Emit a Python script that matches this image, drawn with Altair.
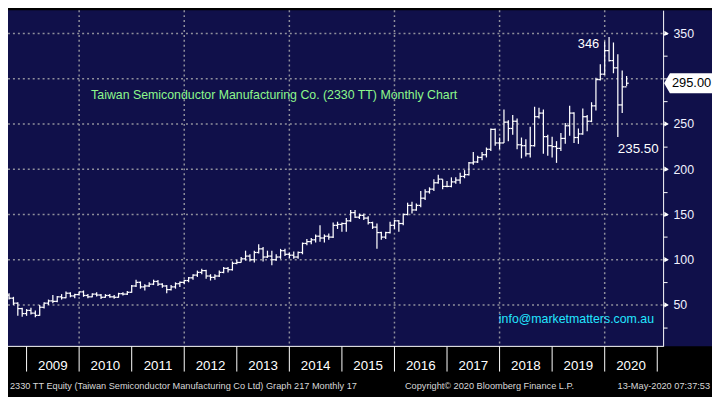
import altair as alt
import pandas as pd

# ---------------- data (monthly OHLC, 2330 TT) ----------------
months = pd.period_range("2008-08", "2020-05", freq="M")

opens = [
    61, 57.5, 52, 46, 40.5,
    44, 41, 38.5, 47.5, 52, 54.5, 54, 59, 58, 63, 60, 61.5,
    64.5, 60.5, 59, 62, 61, 58.5, 60.5, 59, 58.5, 62.5, 62, 64,
    71, 75, 70, 71, 73, 76, 73, 71, 67, 70, 73.5, 75,
    77, 80, 83, 86, 88, 82, 80.5, 82, 86, 90.5, 89, 96,
    97, 101, 104, 100, 108, 112, 103, 104, 100, 103, 110, 106,
    105, 103, 108, 118, 120, 122, 126, 124, 126, 125, 138, 139,
    140, 143, 152, 147, 149, 146, 141, 136, 130, 125, 130, 138,
    143, 140, 150, 160, 155, 160, 168, 175, 178, 185, 189, 181,
    181, 186, 188, 192, 194, 207, 208, 213, 216, 222, 244, 229,
    229, 252, 245, 253, 227, 226, 217, 226, 258, 262, 236, 226,
    225, 223, 234, 248, 262, 235, 239, 258, 253, 270, 299, 305,
    331, 320, 312, 271, 291,
]
highs = [
    63, 59, 53, 47, 45.5,
    47, 44, 50, 53, 56, 61, 60, 62, 65, 64, 62.5, 65,
    66, 62, 63, 64, 62, 62, 62, 61, 63.5, 64, 65.5, 72,
    78, 76, 73, 75, 78, 77.5, 74, 72, 72, 75, 76, 78,
    81, 84, 88, 90, 89, 84, 84, 88, 92, 92, 98, 100,
    103, 110, 106, 110, 117, 114, 110, 110, 106, 112, 112, 108,
    109, 109, 119, 123, 124, 128, 138, 128, 129, 141, 142, 141,
    146, 155, 155, 151, 151, 148, 142, 140, 131, 131, 142, 144,
    144, 151, 163, 164, 162, 176, 178, 180, 189, 194, 189, 187,
    191, 191, 196, 199, 208, 219, 215, 219, 224, 245, 245, 235,
    266, 254, 260, 256, 235, 233, 247, 269, 268, 266, 238, 236,
    231, 240, 251, 270, 263, 245, 267, 260, 274, 301, 316, 341,
    346, 340, 327, 309, 303,
]
lows = [
    56, 50, 38, 37, 38,
    39.5, 36.5, 38, 46, 50, 52, 53, 56, 57.5, 58.5, 57.5, 60.5,
    59, 57.5, 58.5, 59.5, 56.5, 58, 58, 57, 58, 60.5, 61, 63.5,
    70, 68, 66, 70, 72, 71, 69, 63, 66, 68, 70, 73,
    75, 78, 81, 84, 79, 77, 78, 81, 85, 86, 88, 95,
    97, 99, 98, 97, 107, 98, 102, 94, 99, 101, 104, 102,
    101, 101, 106, 116, 117, 119, 120, 119, 122, 124, 134, 131,
    131, 142, 146, 145, 144, 139, 134, 112, 122, 123, 129, 134,
    131, 138, 149, 151, 154, 158, 166, 173, 176, 184, 178, 180,
    180, 184, 184, 190, 193, 205, 207, 210, 213, 220, 226, 222,
    229, 231, 238, 222, 212, 214, 213, 225, 256, 217, 215, 213,
    207, 220, 228, 237, 229, 228, 238, 242, 252, 265, 298, 304,
    319, 306, 235.5, 262, 292,
]
closes = [
    57.5, 52, 46, 40.5, 44,
    41, 38.5, 47.5, 52, 54.5, 54, 59, 58, 63, 60, 61.5, 64.5,
    60.5, 59, 62, 61, 58.5, 60.5, 59, 58.5, 62.5, 62, 64, 71,
    75, 70, 71, 73, 76, 73, 71, 67, 70, 73.5, 75, 77,
    80, 83, 86, 88, 82, 80.5, 82, 86, 90.5, 89, 96, 97,
    101, 104, 100, 108, 112, 103, 104, 100, 103, 110, 106, 105,
    103, 108, 118, 120, 122, 126, 124, 126, 125, 138, 139, 140,
    143, 152, 147, 149, 146, 141, 136, 130, 125, 130, 138, 143,
    140, 150, 160, 155, 160, 168, 175, 178, 185, 189, 181, 181,
    186, 188, 192, 194, 207, 208, 213, 216, 222, 244, 229, 229,
    252, 245, 253, 227, 226, 217, 226, 258, 262, 236, 226, 225,
    223, 234, 248, 262, 235, 239, 258, 253, 270, 299, 305, 331,
    320, 312, 271, 291, 295,
]

year_labels = list(range(2009, 2021))          # x-axis labels
year_edges = list(range(2009, 2022))           # separators
grid_years = [2010, 2012, 2014, 2016, 2018, 2020]
y_grid = [50, 100, 150, 200, 250, 300, 350]
y_minor = list(range(25, 351, 25))
y_major_marks = [50, 100, 150, 200, 250, 350]

title_text = "Taiwan Semiconductor Manufacturing Co. (2330 TT) Monthly Chart"
email_text = "info@marketmatters.com.au"
footer_left = "2330 TT Equity (Taiwan Semiconductor Manufacturing Co Ltd) Graph 217  Monthly 17"
footer_mid = "Copyright\u00a9 2020 Bloomberg Finance L.P."
footer_right = "13-May-2020 07:37:53"

# ---------------- layout ----------------
TOTAL_W, TOTAL_H = 712, 389
SX, SY = TOTAL_W / 720, TOTAL_H / 397
PX_YEAR = 53.75                      # reference px per year
T0 = 2009 - 19 / PX_YEAR             # x domain left edge
T1 = T0 + 720 / PX_YEAR              # x domain right edge
W = TOTAL_W
H = round(347 * SY)
PB = TOTAL_H - H
PX_UNIT = 0.9343                     # reference px per price unit
V_TOP = 350 + 24 / PX_UNIT
V_BOT = 350 - (347 - 24) / PX_UNIT
AXIS_X = 670 * SX

NAVY = "#10104a"
GRID = "#8f8f9c"
SANS = "Liberation Sans, Arial, sans-serif"

df = pd.DataFrame({
    "t": [p.year + p.month / 12 for p in months],
    "o": opens, "h": highs, "l": lows, "c": closes,
})
tick_len = 2.2 / PX_YEAR
df["tl"] = df["t"] - tick_len
df["tr"] = df["t"] + tick_len

xs = alt.Scale(domain=[T0, T1], nice=False, zero=False)
ys = alt.Scale(domain=[V_BOT, V_TOP], nice=False, zero=False)

one = pd.DataFrame({"a": [0]})

# y axis (right side, moved onto the panel) - shared by every layer
yaxis = alt.Axis(
    orient="right", offset=-(TOTAL_W - AXIS_X), values=y_minor,
    labelExpr="(datum.value % 50 == 0 && datum.value != 300) ? datum.label : ''",
    domain=True, domainColor="white", domainWidth=1,
    ticks=True, tickColor="white", tickSize=4, tickWidth=1,
    labelColor="#f2f2ff", labelFont=SANS, labelFontSize=12.5, labelPadding=6,
    labelOverlap=False, grid=False, title=None,
)


def Y(field):
    return alt.Y(field, scale=ys, axis=yaxis)


def X(field):
    return alt.X(field, scale=xs, axis=None)


hgrid = alt.Chart(pd.DataFrame({"v": y_grid})).mark_rule(
    color=GRID, strokeDash=[2, 3], strokeWidth=1.5
).encode(y=Y("v:Q"), x=alt.value(0), x2=alt.value(AXIS_X))

vgrid = alt.Chart(pd.DataFrame({"yr": grid_years})).mark_rule(
    color=GRID, strokeDash=[2, 3], strokeWidth=1.5
).encode(x=X("yr:Q"))

bottom_line = alt.Chart(one).mark_rule(color="white", strokeWidth=1).encode(
    x=alt.value(0), x2=alt.value(AXIS_X), y=alt.value(H)
)

BAR_W = 1.25
hl = alt.Chart(df).mark_rule(color="white", strokeWidth=BAR_W).encode(
    x=X("t:Q"), y=Y("l:Q"), y2="h:Q"
)
op = alt.Chart(df).mark_rule(color="white", strokeWidth=BAR_W).encode(
    x=X("tl:Q"), x2="t:Q", y=Y("o:Q")
)
cl = alt.Chart(df).mark_rule(color="white", strokeWidth=BAR_W).encode(
    x=X("t:Q"), x2="tr:Q", y=Y("c:Q")
)

# major tick triangles on the right axis
tri = alt.Chart(pd.DataFrame({"v": y_major_marks})).mark_point(
    shape="triangle-right", filled=True, color="white", size=28, opacity=1
).encode(x=alt.value(AXIS_X + 3.5), y=Y("v:Q"))

# last price tag
last = df.iloc[[-1]].copy()
last["lbl"] = last["c"].map(lambda v: f"{v:.2f}")
tag_shape = "M -1 0 L -0.76 -0.41 L 1 -0.41 L 1 0.41 L -0.76 0.41 Z"
tag = alt.Chart(last).mark_point(
    shape=tag_shape, filled=True, color="white", size=49 ** 2, opacity=1
).encode(x=alt.value(AXIS_X + 1 + 24.5), y=Y("c:Q"))
tag_txt = alt.Chart(last).mark_text(
    align="left", baseline="middle", color="black", font=SANS, fontSize=13
).encode(x=alt.value(679 * SX), y=Y("c:Q"), text="lbl:N")

# high / low annotations
hi_row = df.loc[[df["h"].idxmax()]].copy()
hi_row["lbl"] = hi_row["h"].map(lambda v: f"{v:g}")
lo_row = df[df["t"] > 2020].nsmallest(1, "l").copy()
lo_row["lbl"] = lo_row["l"].map(lambda v: f"{v:.2f}")
hi_txt = alt.Chart(hi_row).mark_text(
    align="right", baseline="middle", color="white", font=SANS, fontSize=13, dx=-10, dy=7
).encode(x=X("t:Q"), y=Y("h:Q"), text="lbl:N")
lo_txt = alt.Chart(lo_row).mark_text(
    align="left", baseline="middle", color="white", font=SANS, fontSize=13.5, dx=0, dy=12
).encode(x=X("t:Q"), y=Y("l:Q"), text="lbl:N")

# x axis: separators and year labels below the panel
seps = alt.Chart(pd.DataFrame({"yr": year_edges})).mark_rule(color="white", strokeWidth=1).encode(
    x=X("yr:Q"), y=alt.value(H), y2=alt.value(H + 26 * SY)
)
ylab_df = pd.DataFrame({"yr": year_labels})
ylab_df["mid"] = ylab_df["yr"] + 0.5
ylab_df["lbl"] = ylab_df["yr"].astype(str)
ylabs = alt.Chart(ylab_df).mark_text(
    align="center", baseline="middle", color="white", font=SANS, fontSize=13.5
).encode(x=X("mid:Q"), y=alt.value(367 * SY), text="lbl:N")

# free text
title = alt.Chart(one).mark_text(
    text=title_text, align="left", baseline="middle", color="#8cf78c", font=SANS, fontSize=12.5
).encode(x=alt.value(85 * SX), y=alt.value(88 * SY))
email = alt.Chart(one).mark_text(
    text=email_text, align="left", baseline="middle", color="#22e6ff", font=SANS, fontSize=12.5
).encode(x=alt.value(502 * SX), y=alt.value(319 * SY))
f1 = alt.Chart(one).mark_text(
    text=footer_left, align="left", baseline="middle", color="#d8d8d8", font=SANS, fontSize=9.3
).encode(x=alt.value(2 * SX), y=alt.value(388 * SY))
f2 = alt.Chart(one).mark_text(
    text=footer_mid, align="left", baseline="middle", color="#d8d8d8", font=SANS, fontSize=9.3
).encode(x=alt.value(406 * SX), y=alt.value(388 * SY))
f3 = alt.Chart(one).mark_text(
    text=footer_right, align="right", baseline="middle", color="#d8d8d8", font=SANS, fontSize=9.3
).encode(x=alt.value(718 * SX), y=alt.value(388 * SY))

chart = alt.layer(
    hgrid, vgrid, bottom_line, hl, op, cl, tri, tag, tag_txt, hi_txt, lo_txt,
    seps, ylabs, title, email, f1, f2, f3,
).properties(
    width=W, height=H,
    padding={"left": 0, "top": 0, "right": 0, "bottom": PB},
    autosize=alt.AutoSizeParams(type="none"),
    background="black",
).configure_view(fill=NAVY, stroke=None)

chart.save("out.html", embed_options={"renderer": "svg", "actions": False})
